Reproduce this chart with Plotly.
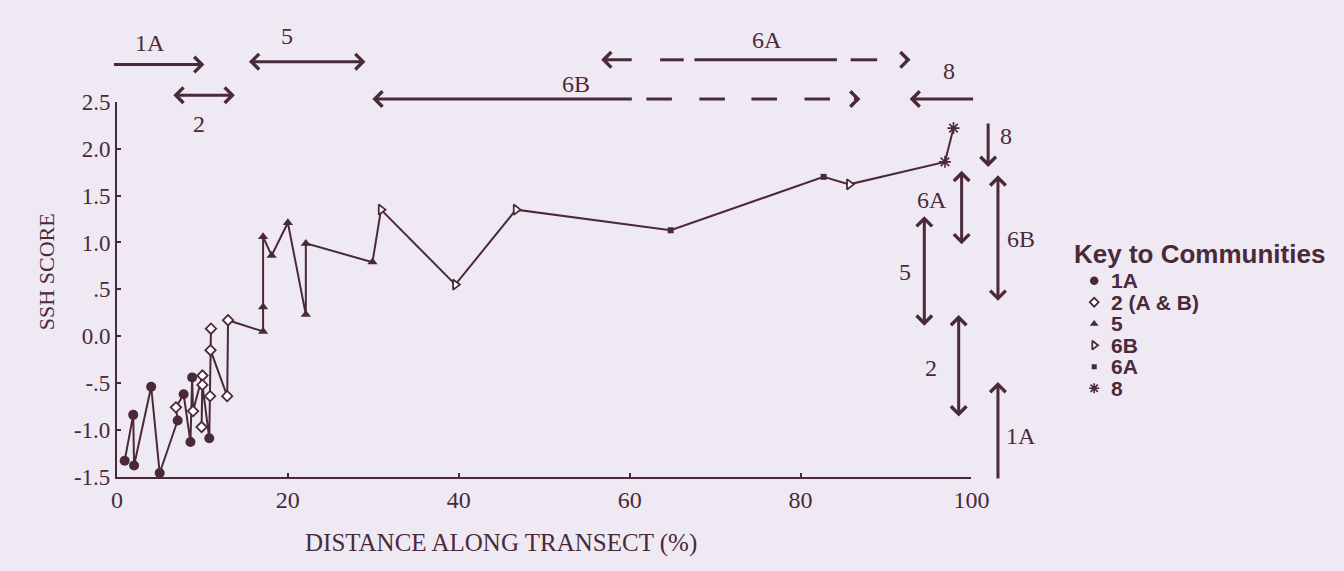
import plotly.graph_objects as go

W, H = 1344, 571

# Samples along the transect, in the order the profile line joins them
distance = [0.9, 1.9, 2.0, 4.0, 5.0, 7.1, 6.9, 7.8, 8.6, 8.8, 8.9, 10.0, 9.9, 10.0,
            10.8, 10.9, 11.0, 10.95, 12.9, 13.0,
            17.1, 17.1, 17.1, 18.1, 20.0, 22.1, 22.1, 29.9,
            30.9, 39.6, 46.7, 64.8, 82.7, 85.7, 96.9, 97.9]
ssh_score = [-1.33, -0.84, -1.38, -0.54, -1.46, -0.90, -0.76, -0.62, -1.13, -0.44, -0.80, -0.42, -0.97, -0.52,
             -1.09, -0.64, 0.08, -0.15, -0.64, 0.17,
             0.05, 0.31, 1.06, 0.86, 1.21, 0.23, 0.99, 0.79,
             1.35, 0.55, 1.35, 1.13, 1.70, 1.62, 1.86, 2.22]
community = ["1A", "1A", "1A", "1A", "1A", "1A", "2", "1A", "1A", "1A", "2", "2", "2", "2",
             "1A", "2", "2", "2", "2", "2",
             "5", "5", "5", "5", "5", "5", "5", "5",
             "6B", "6B", "6B", "6A", "6A", "6B", "8", "8"]

community_keys = ["1A", "2", "5", "6B", "6A", "8"]
key_labels = ["1A", "2 (A & B)", "5", "6B", "6A", "8"]

y_ticks = [-1.5, -1.0, -0.5, 0.0, 0.5, 1.0, 1.5, 2.0, 2.5]
y_tick_text = ["-1.5", "-1.0", "-.5", "0.0", ".5", "1.0", "1.5", "2.0", "2.5"]
x_ticks = [0, 20, 40, 60, 80, 100]

INK = "#4a2a3a"
BG = "#efe9f3"
SERIF = "Liberation Serif"
SANS = "Liberation Sans"

KEY_TOP = 281      # first key row, px
KEY_STEP = 22.5    # key row spacing, px


def marker_style(key, legend=False):
    k = 0.85 if legend else 1.0
    styles = {
        "1A": dict(symbol="circle", size=10 * k, color=INK),
        "2": dict(symbol="diamond", size=8 * k, color="white", line=dict(color=INK, width=1.8)),
        "5": dict(symbol="triangle-up", size=9 * k, color=INK),
        "6B": dict(symbol="triangle-right", size=9 * k, color="white", line=dict(color=INK, width=1.8)),
        "6A": dict(symbol="square", size=6 * k, color=INK),
        "8": dict(symbol="asterisk-open", size=10 * k, color=INK, line=dict(color=INK, width=1.6)),
    }
    return styles[key]


fig = go.Figure()

# profile line through every sample
fig.add_trace(go.Scatter(x=distance, y=ssh_score, mode="lines",
                         line=dict(color=INK, width=2), hoverinfo="skip", showlegend=False))

# community markers
for key in community_keys:
    xs = [d for d, c in zip(distance, community) if c == key]
    ys = [s for s, c in zip(ssh_score, community) if c == key]
    fig.add_trace(go.Scatter(x=xs, y=ys, mode="markers", marker=marker_style(key),
                             cliponaxis=False, showlegend=False, name=key))

# key symbols on a small auxiliary axis pair
for i, key in enumerate(community_keys):
    fig.add_trace(go.Scatter(x=[0.5], y=[i], mode="markers", marker=marker_style(key, legend=True),
                             xaxis="x2", yaxis="y2", showlegend=False, hoverinfo="skip"))


def px(x):
    return x / W


def py(y):
    return 1 - y / H


def arrow(x0, y0, x1, y1, both=False):
    """Arrow with its head at (x1, y1) and tail at (x0, y0), in figure pixels."""
    return dict(x=px(x1), y=py(y1), xref="paper", yref="paper",
                ax=x0 - x1, ay=y0 - y1, axref="pixel", ayref="pixel",
                text="", showarrow=True, arrowhead=4, arrowsize=1.0, arrowwidth=3,
                startarrowhead=4, startarrowsize=1.0,
                arrowside="end+start" if both else "end", arrowcolor=INK)


def label(text, x, y, size=24, family=SERIF, anchor="center", bold=False):
    return dict(x=px(x), y=py(y), xref="paper", yref="paper", text=f"<b>{text}</b>" if bold else text,
                showarrow=False, xanchor=anchor, yanchor="middle", borderpad=0,
                font=dict(family=family, size=size, color=INK))


annotations = []

# zone arrows across the top
annotations += [
    arrow(110, 55, 202, 55),
    label("1A", 147, 32),
    arrow(170, 87, 233, 87, both=True),
    label("2", 197, 117),
    arrow(248, 52, 366, 52, both=True),
    label("5", 286, 25),
    arrow(634, 91, 373, 91),
    label("6B", 580, 75),
    arrow(862, 91, 870, 91),
    arrow(638, 50, 606, 50),
    label("6A", 775, 29),
    arrow(914, 50, 921, 50),
    arrow(985, 91, 920, 91),
    label("8", 960, 62),
]

# zone arrows on the right, along the score axis
annotations += [
    arrow(1000, 117, 1000, 162),
    label("8", 1018, 130),
    arrow(973, 168, 973, 243, both=True),
    label("6A", 943, 197),
    arrow(1010, 175, 1010, 302, both=True),
    label("6B", 1033, 237),
    arrow(935, 217, 935, 328, both=True),
    label("5", 915, 272),
    arrow(970, 320, 970, 423, both=True),
    label("2", 942, 372),
    arrow(1010, 485, 1010, 387),
    label("1A", 1033, 443),
]

# axis titles
annotations += [
    dict(x=px(26), y=py(272), xref="paper", yref="paper", text="SSH SCORE", textangle=-90,
         showarrow=False, font=dict(family=SERIF, size=22, color=INK)),
    label("DISTANCE ALONG TRANSECT (%)", 504, 555, size=25),
]

# key
annotations.append(label("Key to Communities", 1086, 253, size=26, family=SANS, anchor="left", bold=True))
for i, text in enumerate(key_labels):
    annotations.append(label(text, 1124, KEY_TOP + KEY_STEP * i, size=21, family=SANS, anchor="left", bold=True))

# dashed portions of the 6A / 6B extents
shapes = []
for a, b in [(652, 678), (706, 732), (759, 785), (813, 839)]:
    shapes.append(dict(type="line", xref="paper", yref="paper", x0=px(a), x1=px(b), y0=py(91), y1=py(91),
                       line=dict(color=INK, width=3)))
for a, b in [(666, 690), (701, 846), (860, 887)]:
    shapes.append(dict(type="line", xref="paper", yref="paper", x0=px(a), x1=px(b), y0=py(50), y1=py(50),
                       line=dict(color=INK, width=3)))

fig.update_layout(
    width=W, height=H,
    margin=dict(l=0, r=0, t=0, b=0),
    paper_bgcolor=BG, plot_bgcolor=BG,
    showlegend=False,
    xaxis=dict(domain=[113 / W, 983 / W], range=[0, 100], tickvals=x_ticks,
               showgrid=False, zeroline=False, showline=True, linecolor=INK, linewidth=2,
               ticks="inside", ticklen=4, tickwidth=2, tickcolor=INK,
               tickfont=dict(family=SERIF, size=24, color=INK), anchor="y"),
    yaxis=dict(domain=[1 - 486 / H, 1 - 94 / H], range=[-1.5, 2.5], tickvals=y_ticks, ticktext=y_tick_text,
               showgrid=False, zeroline=False, showline=True, linecolor=INK, linewidth=2,
               ticks="inside", ticklen=4, tickwidth=2, tickcolor=INK,
               tickfont=dict(family=SERIF, size=23, color=INK), anchor="x"),
    xaxis2=dict(domain=[1098 / W, 1118 / W], range=[0, 1], visible=False, anchor="y2"),
    yaxis2=dict(domain=[1 - (KEY_TOP + KEY_STEP * 5.5) / H, 1 - (KEY_TOP - KEY_STEP * 0.5) / H],
                range=[5.5, -0.5], visible=False, anchor="x2"),
    annotations=annotations,
    shapes=shapes,
)

fig.write_html("out.html")
